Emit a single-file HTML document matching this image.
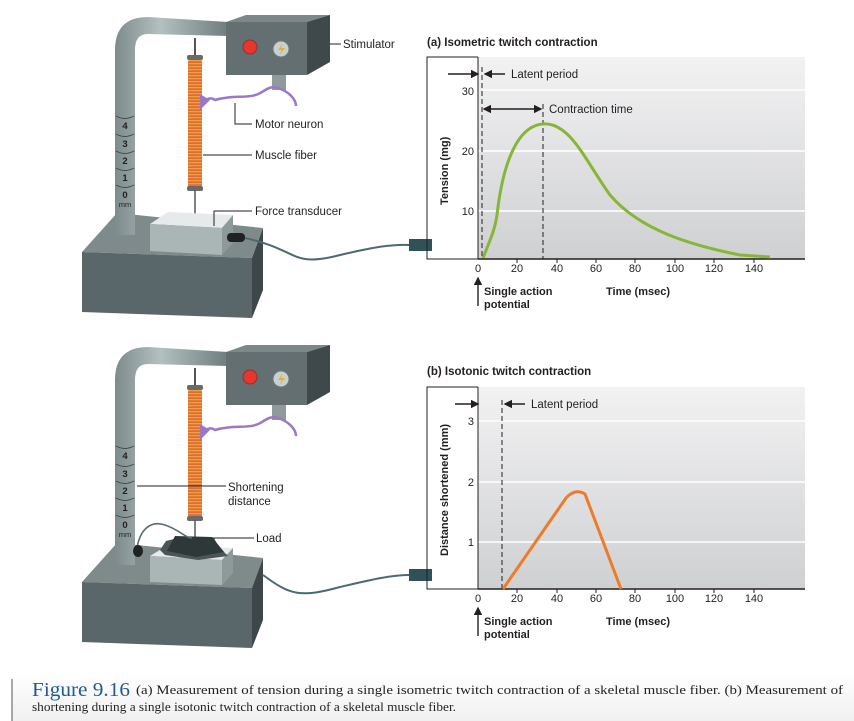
<!DOCTYPE html>
<html><head><meta charset="utf-8"><style>
html,body{margin:0;padding:0;background:#fff;width:854px;height:721px;overflow:hidden}
svg{display:block}
text{font-family:"Liberation Sans",Arial,sans-serif;fill:#231f20}
.lbl{font-size:11.5px}
.tk{font-size:11px}
.b{font-weight:bold}
</style></head><body>
<svg width="854" height="721" viewBox="0 0 854 721" xmlns="http://www.w3.org/2000/svg">
<defs>
<linearGradient id="pole" x1="0" x2="1"><stop offset="0" stop-color="#7d8b8c"/><stop offset="0.4" stop-color="#b3c0c0"/><stop offset="1" stop-color="#6f7d7e"/></linearGradient>
<linearGradient id="bg" x1="0" y1="0" x2="0" y2="1"><stop offset="0" stop-color="#f2f2f3"/><stop offset="1" stop-color="#cfd0d2"/></linearGradient>
<linearGradient id="cap" x1="0" y1="0" x2="0" y2="1"><stop offset="0" stop-color="#ffffff"/><stop offset="1" stop-color="#f0f0f0"/></linearGradient>
<pattern id="fib" width="4" height="3" patternUnits="userSpaceOnUse"><rect width="4" height="3" fill="#e9a53a"/><rect y="1.5" width="4" height="1.2" fill="#e0503a"/></pattern>
<marker id="ah" markerWidth="6" markerHeight="6" refX="5" refY="3" orient="auto"><path d="M0,0 L6,3 L0,6z" fill="#231f20"/></marker>
<g id="rig">
  <polygon points="82,252 117,213 263,228 252,258" fill="#7f8b8b"/>
  <polygon points="82,252 252,258 252,318 82,312" fill="#59666a"/>
  <polygon points="252,258 263,228 263,290 252,318" fill="#3d4749"/>
  <path d="M115,235 L115,50 Q115,17 148,17 L228,22 L228,36 L148,34 Q135,34 135,50 L135,235 Z" fill="url(#pole)"/>
  <path d="M116,116 Q125,121 134,116 M116,134 Q125,139 134,134 M116,151 Q125,156 134,151 M116,168 Q125,173 134,168 M116,185 Q125,190 134,185" stroke="#3d4a4c" fill="none" stroke-width="0.9"/>
  <g font-size="9.5" text-anchor="middle" style="fill:#222;font-weight:bold">
  <text x="125" y="129">4</text><text x="125" y="147">3</text><text x="125" y="164">2</text><text x="125" y="181">1</text><text x="125" y="198">0</text></g>
  <text x="125" y="207" font-size="7.5" text-anchor="middle" fill="#222">mm</text>
  <polygon points="226,22 246,15 330,15 307,22" fill="#7c8788"/>
  <rect x="226" y="22" width="81" height="53" fill="#646f71"/>
  <polygon points="307,22 330,15 330,62 307,75" fill="#3f494b"/>
  <circle cx="250" cy="47" r="7" fill="#e8362c" stroke="#8a3530" stroke-width="1"/>
  <circle cx="281" cy="49" r="8" fill="#c9d0d1" stroke="#6f7a7b" stroke-width="1"/>
  <path d="M283,43 L278,50 L282,50 L279,56 L285,48 L281,48 Z" fill="#e8b02a"/>
  <rect x="272" y="75" width="14" height="15" fill="#8e9a9b"/>
  <line x1="195" y1="38" x2="195" y2="60" stroke="#555" stroke-width="2"/>
  <rect x="188" y="58" width="14" height="131" rx="4" fill="url(#fib)"/>
  <rect x="187" y="55" width="16" height="5" rx="2" fill="#6a6a6a"/>
  <rect x="187" y="186" width="16" height="5" rx="2" fill="#6a6a6a"/>
  <path d="M203,102 Q210,96 215,100 C235,94 250,100 262,92 C268,88 272,86 278,88 C290,92 296,100 296,106" stroke="#9a78c8" stroke-width="2.5" fill="none"/>
  <path d="M200,94 L210,100 L200,110 Z" fill="#9a78c8"/>
</g>
</defs>

<use href="#rig"/>
<line x1="195" y1="190" x2="195" y2="228" stroke="#555" stroke-width="1.5"/>
<polygon points="150,224 168,212 233,215 222,228" fill="#e6eaea"/>
<polygon points="150,224 222,228 222,255 150,251" fill="#aab5b5"/>
<polygon points="222,228 233,215 233,243 222,255" fill="#8e9a9a"/>
<rect x="227" y="233" width="18" height="9" rx="4" fill="#1e2223"/>
<path d="M245,238 C300,250 290,268 340,255 C370,248 390,244 410,245" stroke="#4d6a70" stroke-width="2" fill="none"/>
<rect x="409" y="239" width="23" height="12" fill="#2f5158"/>

<use href="#rig" transform="translate(0,330)"/>
<line x1="195" y1="520" x2="195" y2="537" stroke="#555" stroke-width="1.5"/>
<polygon points="150,556 168,545 233,548 222,560" fill="#e6eaea"/>
<polygon points="150,556 222,560 222,585 150,582" fill="#aab5b5"/>
<polygon points="222,560 233,548 233,573 222,585" fill="#8e9a9a"/>
<polygon points="166,541 182,537 214,538 218,546 228,556 198,560 165,555 160,550" fill="#4a5556"/>
<polygon points="175,536 212,537 224,552 196,557 167,551" fill="#2f3839"/>
<path d="M137,548 C140,530 150,520 165,525 C180,530 185,538 192,538" stroke="#5a6e72" stroke-width="1.6" fill="none"/>
<ellipse cx="138" cy="551" rx="5" ry="6" fill="#1e2223"/>
<path d="M263,575 C290,595 300,598 340,587 C370,580 390,575 410,575" stroke="#4d6a70" stroke-width="2" fill="none"/>
<rect x="409" y="569" width="23" height="12" fill="#2f5158"/>

<g stroke="#231f20" stroke-width="1" fill="none">
<line x1="330" y1="44" x2="341" y2="44"/>
<polyline points="235,103 235,124 252,124"/>
<line x1="203" y1="155" x2="252" y2="155"/>
<polyline points="214,226 214,211 252,211"/>
<line x1="137" y1="486" x2="226" y2="486"/>
<line x1="212" y1="538" x2="254" y2="538"/>
</g>
<text class="lbl" x="343" y="48">Stimulator</text>
<text class="lbl" x="255" y="128">Motor neuron</text>
<text class="lbl" x="255" y="159">Muscle fiber</text>
<text class="lbl" x="255" y="215">Force transducer</text>
<text class="lbl" x="228" y="491">Shortening</text>
<text class="lbl" x="228" y="505">distance</text>
<text class="lbl" x="256" y="542">Load</text>

<text class="b" x="427" y="46" font-size="11.5">(a) Isometric twitch contraction</text>
<rect x="478" y="57" width="327" height="202" fill="url(#bg)"/>
<g stroke="#fff" stroke-width="1.5"><line x1="482" y1="90" x2="805" y2="90"/><line x1="478" y1="151" x2="805" y2="151"/><line x1="478" y1="211" x2="805" y2="211"/></g>
<polyline points="478,57 427,57 427,259 478,259" stroke="#231f20" fill="none" stroke-width="1"/>
<line x1="478" y1="57" x2="478" y2="259" stroke="#231f20" stroke-width="1"/>
<line x1="478" y1="259" x2="805" y2="259" stroke="#231f20" stroke-width="1.5"/>
<g stroke="#231f20" stroke-width="1"><line x1="517" y1="259" x2="517" y2="263"/><line x1="557" y1="259" x2="557" y2="263"/><line x1="596" y1="259" x2="596" y2="263"/><line x1="635" y1="259" x2="635" y2="263"/><line x1="675" y1="259" x2="675" y2="263"/><line x1="714" y1="259" x2="714" y2="263"/><line x1="754" y1="259" x2="754" y2="263"/></g>
<g class="tk" text-anchor="middle"><text x="478" y="272">0</text><text x="517" y="272">20</text><text x="557" y="272">40</text><text x="596" y="272">60</text><text x="635" y="272">80</text><text x="675" y="272">100</text><text x="714" y="272">120</text><text x="754" y="272">140</text></g>
<g class="tk" text-anchor="end"><text x="474" y="95">30</text><text x="474" y="155">20</text><text x="474" y="215">10</text></g>
<text class="b" font-size="11" transform="translate(448,205) rotate(-90)">Tension (mg)</text>
<g stroke="#231f20" stroke-width="1" stroke-dasharray="5,3"><line x1="482" y1="67" x2="482" y2="259"/><line x1="543" y1="104" x2="543" y2="259"/></g>
<g stroke="#231f20" stroke-width="1.4"><line x1="448" y1="74" x2="478" y2="74" marker-end="url(#ah)"/><line x1="505" y1="74" x2="485" y2="74" marker-end="url(#ah)"/><line x1="490" y1="109" x2="484" y2="109" marker-end="url(#ah)"/><line x1="490" y1="109" x2="541" y2="109" marker-end="url(#ah)"/></g>
<text class="lbl" x="511" y="78">Latent period</text>
<text class="lbl" x="549" y="113">Contraction time</text>
<path d="M483,258 C490,240 495,230 497,215 C502,170 515,126 543,124 C570,122 585,160 610,195 C640,230 690,245 740,255 L770,257" stroke="#87b637" stroke-width="3" fill="none"/>
<line x1="478" y1="306" x2="478" y2="278" stroke="#231f20" stroke-width="1.4" marker-end="url(#ah)"/>
<text class="b tk" x="484" y="295">Single action</text>
<text class="b tk" x="484" y="308">potential</text>
<text class="b tk" x="606" y="295">Time (msec)</text>

<text class="b" x="427" y="375" font-size="11.5">(b) Isotonic twitch contraction</text>
<rect x="478" y="387" width="327" height="202" fill="url(#bg)"/>
<g stroke="#fff" stroke-width="1.5"><line x1="478" y1="421" x2="805" y2="421"/><line x1="478" y1="482" x2="805" y2="482"/><line x1="478" y1="542" x2="805" y2="542"/></g>
<polyline points="478,387 427,387 427,589 478,589" stroke="#231f20" fill="none" stroke-width="1"/>
<line x1="478" y1="387" x2="478" y2="589" stroke="#231f20" stroke-width="1"/>
<line x1="478" y1="589" x2="805" y2="589" stroke="#231f20" stroke-width="1.5"/>
<g stroke="#231f20" stroke-width="1"><line x1="517" y1="589" x2="517" y2="593"/><line x1="557" y1="589" x2="557" y2="593"/><line x1="596" y1="589" x2="596" y2="593"/><line x1="635" y1="589" x2="635" y2="593"/><line x1="675" y1="589" x2="675" y2="593"/><line x1="714" y1="589" x2="714" y2="593"/><line x1="754" y1="589" x2="754" y2="593"/></g>
<g class="tk" text-anchor="middle"><text x="478" y="602">0</text><text x="517" y="602">20</text><text x="557" y="602">40</text><text x="596" y="602">60</text><text x="635" y="602">80</text><text x="675" y="602">100</text><text x="714" y="602">120</text><text x="754" y="602">140</text></g>
<g class="tk" text-anchor="end"><text x="474" y="425">3</text><text x="474" y="486">2</text><text x="474" y="546">1</text></g>
<text class="b" font-size="11" transform="translate(448,556) rotate(-90)">Distance shortened (mm)</text>
<line x1="502" y1="400" x2="502" y2="589" stroke="#231f20" stroke-width="1" stroke-dasharray="5,3"/>
<g stroke="#231f20" stroke-width="1.4"><line x1="455" y1="404" x2="478" y2="404" marker-end="url(#ah)"/><line x1="525" y1="404" x2="505" y2="404" marker-end="url(#ah)"/></g>
<text class="lbl" x="531" y="408">Latent period</text>
<path d="M503,589 L566,498 Q575,488 585,494 L621,589" stroke="#ef7a2a" stroke-width="3" fill="none" stroke-linejoin="round"/>
<line x1="478" y1="636" x2="478" y2="608" stroke="#231f20" stroke-width="1.4" marker-end="url(#ah)"/>
<text class="b tk" x="484" y="625">Single action</text>
<text class="b tk" x="484" y="638">potential</text>
<text class="b tk" x="606" y="625">Time (msec)</text>

<rect x="12" y="673" width="842" height="48" fill="url(#cap)"/>
<line x1="12" y1="679" x2="12" y2="721" stroke="#555" stroke-width="1"/>
<text x="32" y="696" style="fill:#1f5b8f;font-family:'Liberation Serif',serif;font-size:20px" textLength="98" lengthAdjust="spacingAndGlyphs">Figure 9.16</text>
<text x="136" y="694" style="font-family:'Liberation Serif',serif;font-size:13px" textLength="707" lengthAdjust="spacingAndGlyphs">(a) Measurement of tension during a single isometric twitch contraction of a skeletal muscle fiber. (b) Measurement of</text>
<text x="32" y="711" style="font-family:'Liberation Serif',serif;font-size:13px" textLength="424" lengthAdjust="spacingAndGlyphs">shortening during a single isotonic twitch contraction of a skeletal muscle fiber.</text>
</svg>
</body></html>
